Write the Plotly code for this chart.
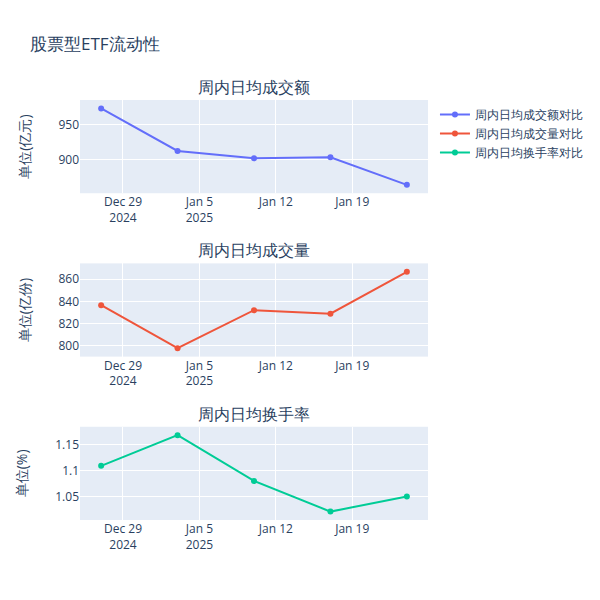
import plotly.graph_objects as go
from plotly.subplots import make_subplots

dates = ["2024-12-27", "2025-01-03", "2025-01-10", "2025-01-17", "2025-01-24"]
amount = [973, 912.7, 902.4, 903.8, 864.6]
volume = [836.6, 798, 832.1, 829, 866.5]
turnover = [1.109, 1.168, 1.08, 1.021, 1.05]

subtitles = ["周内日均成交额", "周内日均成交量", "周内日均换手率"]
names = ["周内日均成交额对比", "周内日均成交量对比", "周内日均换手率对比"]
ylabels = ["单位(亿元)", "单位(亿份)", "单位(%)"]
colors = ["#636efa", "#EF553B", "#00cc96"]

fig = make_subplots(rows=3, cols=1, subplot_titles=subtitles, vertical_spacing=0.167)
for i, (vals, nm, col) in enumerate(zip([amount, volume, turnover], names, colors)):
    fig.add_trace(go.Scatter(x=dates, y=vals, mode="lines+markers", name=nm,
                             line=dict(color=col)), row=i + 1, col=1)
    fig.update_yaxes(title_text=ylabels[i], title_standoff=24, row=i + 1, col=1)
    fig.update_xaxes(type="date", row=i + 1, col=1)

fig.update_layout(
    title=dict(text="股票型ETF流动性", x=0.0367, y=0.94, yanchor="middle"),
    width=600, height=600,
    margin=dict(l=72, r=180, t=92, b=88),
    legend=dict(x=1.02, y=1),
)
fig.write_html("out.html")
